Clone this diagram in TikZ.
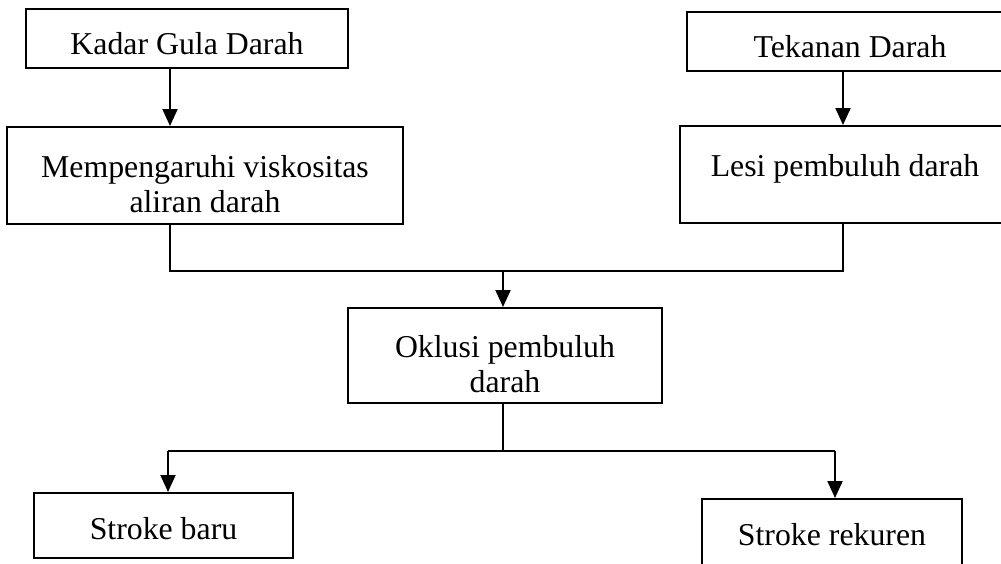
\documentclass[tikz,border=0pt]{standalone}
\usepackage{fontspec}
\setmainfont{Liberation Serif}
\usetikzlibrary{arrows.meta}
\begin{document}
\begin{tikzpicture}[x=1pt,y=-1pt,
  box/.style={draw, line width=2pt, inner sep=0pt},
  lbl/.style={inner sep=0pt, align=center, font=\fontsize{31.8}{35}\selectfont},
  conn/.style={line width=1.8pt},
  arr/.style={line width=2pt, -{Triangle[width=15pt,length=17pt]}}]
\useasboundingbox (0,0) rectangle (1001,563);
\clip (0,0) rectangle (1001,563);
% boxes
\node[box, minimum width=322pt, minimum height=59pt,
  label={[lbl, yshift=-5pt]center:Kadar Gula Darah}] (kadar) at (187,38.5) {};
\node[box, minimum width=396pt, minimum height=97pt,
  label={[lbl, yshift=-9pt]center:Mempengaruhi viskositas\\aliran darah}] (mem) at (205,175.5) {};
\node[box, minimum width=326pt, minimum height=59pt,
  label={[lbl, yshift=-5pt]center:Tekanan Darah}] (tek) at (850,41.5) {};
\node[box, minimum width=330pt, minimum height=97pt,
  label={[lbl, yshift=6pt]center:Lesi pembuluh darah}] (lesi) at (845,174.5) {};
\node[box, minimum width=314pt, minimum height=95pt,
  label={[lbl, yshift=-9pt]center:Oklusi pembuluh\\darah}] (okl) at (505,355.5) {};
\node[box, minimum width=259pt, minimum height=65pt,
  label={[lbl, yshift=-3pt]center:Stroke baru}] (baru) at (163.5,525.5) {};
\node[box, minimum width=260pt, minimum height=68pt,
  label={[lbl, yshift=-2pt]center:Stroke rekuren}] (rek) at (832,533) {};
% coordinates for connector columns
\coordinate (cl) at (170,0);
\coordinate (cr) at (843,0);
\coordinate (cm) at (503,0);
\coordinate (bl) at (168,0);
\coordinate (br) at (835,0);
\coordinate (j1) at (0,271);
\coordinate (j2) at (0,451);
% connectors
\draw[arr] (kadar.south -| cl) -- (mem.north -| cl);
\draw[arr] (tek.south -| cr) -- (lesi.north -| cr);
\draw[conn] (mem.south -| cl) -- (j1 -| cl) -- (j1 -| cr) -- (lesi.south -| cr);
\draw[arr] (j1 -| cm) -- (okl.north -| cm);
\draw[conn] (okl.south -| cm) -- (j2 -| cm);
\draw[conn] (j2 -| bl) -- (j2 -| br);
\draw[arr] (j2 -| bl) -- (baru.north -| bl);
\draw[arr] (j2 -| br) -- (rek.north -| br);
\end{tikzpicture}
\end{document}
